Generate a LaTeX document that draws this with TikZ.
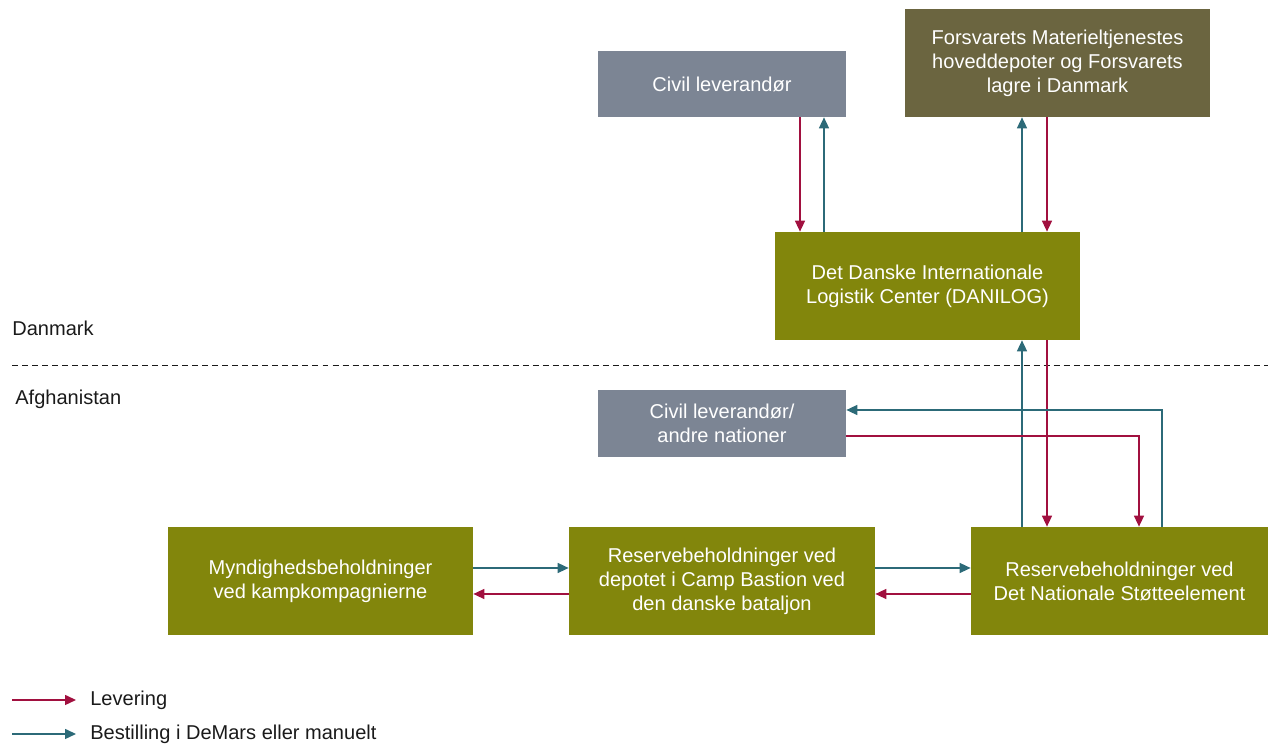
\documentclass[tikz,border=0pt]{standalone}
\usepackage{fontspec}
\setmainfont{Liberation Sans}
\usepackage{xcolor}
\usetikzlibrary{arrows.meta,positioning,calc}
\definecolor{DKgreen}{HTML}{82860C}
\definecolor{DKolive}{HTML}{6B6540}
\definecolor{DKgray}{HTML}{7C8594}
\definecolor{DKred}{HTML}{A1103F}
\definecolor{DKteal}{HTML}{2C6A78}
\definecolor{DKtext}{HTML}{1A1A1A}

\tikzset{
  box/.style={fill=DKgreen, text=white, align=center, inner sep=0pt,
    minimum width=6.1cm, minimum height=2.16cm,
    font=\fontsize{11.4}{13.7}\selectfont},
  levering/.style={DKred, line width=0.85pt, -{Triangle[length=0.22cm,width=0.2cm]}},
  bestil/.style={DKteal, line width=0.85pt, -{Triangle[length=0.22cm,width=0.2cm]}},
  lbl/.style={text=DKtext, anchor=west, inner sep=0pt,
    font=\fontsize{11.4}{13.7}\selectfont}
}

\begin{document}
\begin{tikzpicture}
      \useasboundingbox (0,0) rectangle (25.36,14.9);
      % Danmark
      \node[box, fill=DKgray, minimum width=4.96cm, minimum height=1.32cm] (civ) at (14.44,13.22)
        {Civil leverandør};
      \node[box, fill=DKolive] (fmt) at (21.15,13.64)
        {Forsvarets Materieltjenestes\\hoveddepoter og Forsvarets\\lagre i Danmark};
      \node[box] (danilog) at (18.55,9.18)
        {Det Danske Internationale\\Logistik Center (DANILOG)};
      % Afghanistan
      \node[box, fill=DKgray, minimum width=4.96cm, minimum height=1.34cm] (civand) at (14.44,6.43)
        {Civil leverandør/\\andre nationer};
      \node[box] (myn) at (6.41,3.28)
        {Myndighedsbeholdninger\\ved kampkompagnierne};
      \node[box, minimum width=6.12cm] (camp) at (14.44,3.28)
        {Reservebeholdninger ved\\depotet i Camp Bastion ved\\den danske bataljon};
      \node[box, minimum width=5.94cm] (nse) at (22.39,3.28)
        {Reservebeholdninger ved\\Det Nationale Støtteelement};

      \draw[DKtext, line width=0.5pt, dash pattern=on 3.4pt off 2.3pt] (0.24,7.6) -- (25.36,7.6);
      \node[lbl] (dk) at (0.24,8.34) {Danmark};
      \node[lbl] (af) at (0.30,6.92) {Afghanistan};

      % civil leverandoer <-> DANILOG
      \draw[levering] ([xshift=1.56cm]civ.south) -- ([xshift=1.56cm]civ.south |- danilog.north);
      \draw[bestil] ([xshift=2.04cm]civ.south |- danilog.north) -- ([xshift=2.04cm]civ.south);
      % FMT <-> DANILOG
      \draw[bestil] ([xshift=1.89cm]danilog.north) -- ([xshift=1.89cm]danilog.north |- fmt.south);
      \draw[levering] ([xshift=2.39cm]danilog.north |- fmt.south) -- ([xshift=2.39cm]danilog.north);
      % DANILOG <-> NSE
      \draw[bestil] ([xshift=1.89cm]danilog.south |- nse.north) -- ([xshift=1.89cm]danilog.south);
      \draw[levering] ([xshift=2.39cm]danilog.south) -- ([xshift=2.39cm]danilog.south |- nse.north);
      % NSE <-> civil leverandoer / andre nationer
      \draw[bestil] ([xshift=0.85cm]nse.north) |- ([yshift=0.27cm]civand.east);
      \draw[levering] ([yshift=-0.25cm]civand.east) -| ([xshift=0.39cm]nse.north);
      % vandret
      \draw[bestil] ([yshift=0.26cm]myn.east) -- ([yshift=0.26cm]camp.west);
      \draw[levering] ([yshift=-0.26cm]camp.west) -- ([yshift=-0.26cm]myn.east);
      \draw[bestil] ([yshift=0.26cm]camp.east) -- ([yshift=0.26cm]nse.west);
      \draw[levering] ([yshift=-0.26cm]nse.west) -- ([yshift=-0.26cm]camp.east);

      % forklaring
      \coordinate (levA) at (0.24,0.9);
      \coordinate (levB) at (1.52,0.9);
      \coordinate (besA) at (0.24,0.22);
      \coordinate (besB) at (1.52,0.22);
      \draw[levering] (levA) -- (levB);
      \draw[bestil] (besA) -- (besB);
      \node[lbl] (levtxt) at (1.8,0.9) {Levering};
      \node[lbl] (bestxt) at (1.8,0.22) {Bestilling i DeMars eller manuelt};
    \end{tikzpicture}
\end{document}
